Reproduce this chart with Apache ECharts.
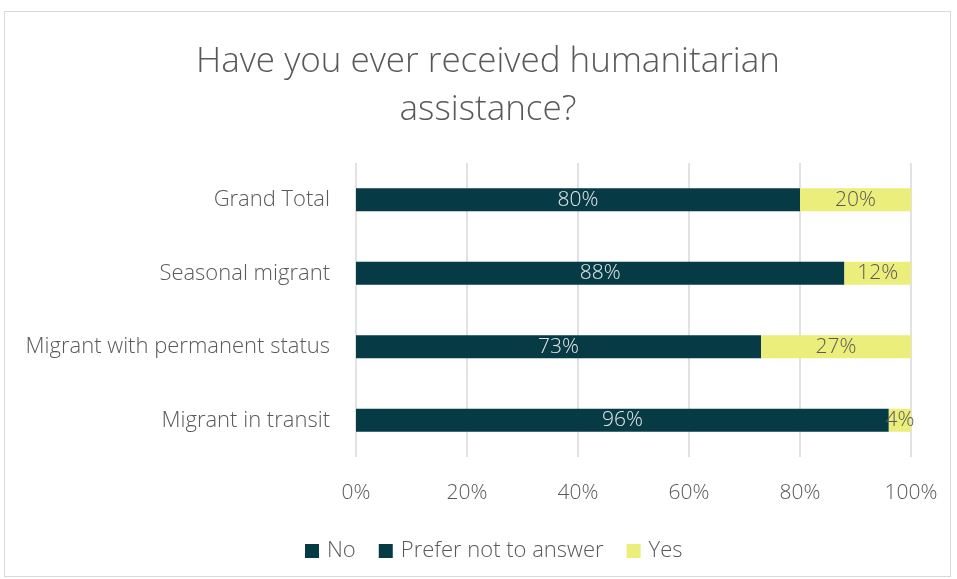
<!DOCTYPE html>
<html>
<head>
<meta charset="utf-8">
<script src="https://cdn.jsdelivr.net/npm/echarts@6/dist/echarts.min.js"></script>
<style>
  html, body { margin: 0; padding: 0; background: #fff; }
  #frame { position: absolute; left: 4px; top: 11px; width: 947px; height: 566px; border: 1px solid #d9d9d9; box-sizing: border-box; }
  #chart { width: 957px; height: 579px; position: absolute; left: 0; top: 0; }
</style>
</head>
<body>
<div id="frame"></div>
<div id="chart"></div>
<script>
// Respondent groups, bottom to top as drawn on the category axis
const categories = ['Migrant in transit', 'Migrant with permanent status', 'Seasonal migrant', 'Grand Total'];
// Share of each answer, in percent
const noValues = [96, 73, 88, 80];
const preferNotValues = [0, 0, 0, 0];
const yesValues = [4, 27, 12, 20];
const tickLabels = ['0%', '20%', '40%', '60%', '80%', '100%'];

const FONT = '"Open Sans", "Segoe UI", sans-serif';
const DARK = '#063a45';
const YELLOW = '#ebee7a';

const chart = echarts.init(document.getElementById('chart'), null, { renderer: 'canvas' });

function seriesFor(name, data, color, labelColor) {
  return {
    name: name,
    type: 'bar',
    stack: 'total',
    barWidth: 23,
    data: data,
    itemStyle: { color: color },
    label: {
      show: true,
      position: 'inside',
      color: labelColor,
      fontFamily: FONT,
      fontSize: 21,
      fontWeight: 300,
      formatter: p => (p.value > 0 ? p.value + '%' : '')
    }
  };
}

chart.setOption({
  animation: false,
  title: {
    text: 'Have you ever received humanitarian\nassistance?',
    left: 483,
    textAlign: 'center',
    top: 33,
    textStyle: {
      fontFamily: FONT,
      fontWeight: 300,
      fontSize: 35,
      color: '#595959',
      lineHeight: 48
    }
  },
  legend: {
    left: 300,
    top: 535,
    itemWidth: 14,
    itemHeight: 14,
    itemGap: 23,
    icon: 'rect',
    textStyle: { fontFamily: FONT, fontSize: 22, fontWeight: 300, color: '#595959', padding: [0, 0, 0, 3] },
    data: ['No', 'Prefer not to answer', 'Yes']
  },
  grid: { left: 356, right: 46, top: 163, bottom: 122 },
  xAxis: {
    type: 'value',
    min: 0,
    max: 100,
    interval: 20,
    axisLine: { show: false },
    axisTick: { show: false },
    splitLine: { show: true, lineStyle: { color: '#d9d9d9', width: 1.5 } },
    axisLabel: {
      margin: 26,
      fontFamily: FONT,
      fontSize: 21,
      fontWeight: 300,
      color: '#595959',
      formatter: v => tickLabels[v / 20]
    }
  },
  yAxis: {
    type: 'category',
    data: categories,
    axisLine: { show: false },
    axisTick: { show: false },
    axisLabel: {
      margin: 26,
      fontFamily: FONT,
      fontSize: 22,
      fontWeight: 300,
      color: '#595959',
      padding: [8, 0, 0, 0]
    }
  },
  series: [
    seriesFor('No', noValues, DARK, '#e6e6e6'),
    seriesFor('Prefer not to answer', preferNotValues, DARK, '#e6e6e6'),
    seriesFor('Yes', yesValues, YELLOW, '#595959')
  ]
});
</script>
</body>
</html>
